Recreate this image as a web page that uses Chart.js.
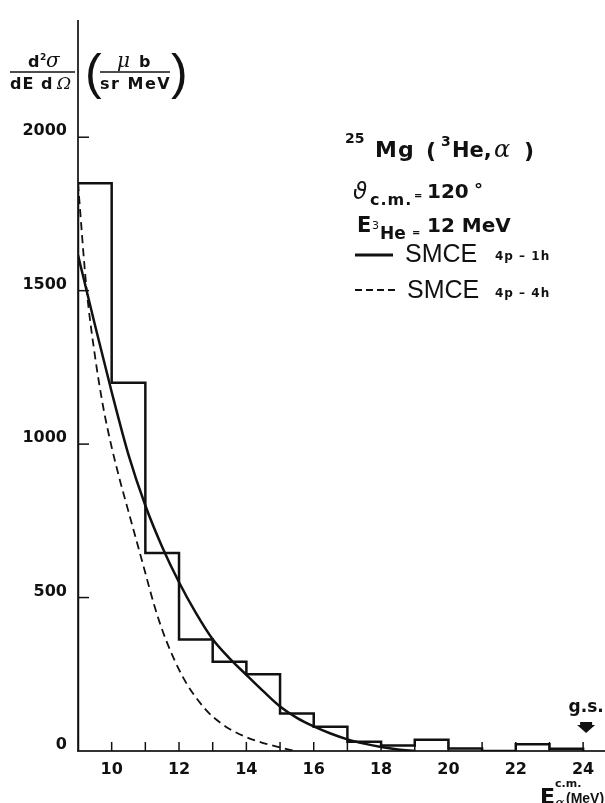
<!DOCTYPE html>
<html>
<head>
<meta charset="utf-8">
<script src="https://cdn.jsdelivr.net/npm/chart.js@4.4.0/dist/chart.umd.min.js"></script>
<style>
  html, body { margin: 0; padding: 0; background: #fff; }
</style>
</head>
<body>
<canvas id="myChart" width="605" height="803"></canvas>
<script>
// histogram, 1 MeV bins (left edges) in microbarn / (sr MeV)
const binEdges  = [9, 10, 11, 12, 13, 14, 15, 16, 17, 18, 19, 20, 21, 22, 23];
const binValues = [1850, 1200, 645, 363, 291, 250, 122, 79, 30, 18, 37, 8, 0, 22, 7];

// SMCE 4p-1h (solid)
const smce1hE = [9.0, 9.5, 10.0, 10.5, 11.0, 11.5, 12.0, 12.5, 13.0, 13.5, 14.0, 14.5, 15.0, 15.5, 16.0, 16.5, 17.0, 17.5, 18.0, 18.5, 19.0];
const smce1hY = [1616, 1390, 1170, 965, 800, 665, 550, 450, 364, 302, 248, 195, 145, 108, 80, 57, 38, 24, 13, 5, 0];

// SMCE 4p-4h (dashed)
const smce4hE = [9.0, 9.25, 9.5, 9.75, 10.0, 10.25, 10.5, 10.75, 11.0, 11.25, 11.5, 11.75, 12.0, 12.25, 12.5, 12.75, 13.0, 13.5, 14.0, 14.5, 15.0, 15.44];
const smce4hY = [1850, 1510, 1290, 1120, 990, 880, 780, 680, 580, 480, 395, 325, 265, 215, 175, 140, 112, 72, 45, 26, 12, 0];

const xTickLabels = [10, 12, 14, 16, 18, 20, 22, 24];
const xTickMarks  = [10, 11, 12, 13, 14, 15, 16, 17, 18, 19, 20, 21, 22, 23, 24];
const yTickLabels = [0, 500, 1000, 1500, 2000];

const INK = '#111';
const BOLD = '"DejaVu Sans", sans-serif';
const SERIF = '"DejaVu Serif", serif';

// step outline of the histogram
let histPts = [{x: binEdges[0], y: 0}];
binEdges.forEach((e, i) => histPts.push({x: e, y: binValues[i]}));
histPts.push({x: 24, y: binValues[binValues.length - 1]});
histPts.push({x: 24, y: 0});

function txt(ctx, s, x, y, font, ls, align) {
  ctx.font = font;
  ctx.letterSpacing = (ls || 0) + 'px';
  ctx.textAlign = align || 'left';
  ctx.textBaseline = 'alphabetic';
  ctx.fillText(s, x, y);
  ctx.letterSpacing = '0px';
}

const decor = {
  id: 'decor',
  afterDraw(chart) {
    const ctx = chart.ctx;
    const xs = chart.scales.x, ys = chart.scales.y;
    const bottom = chart.chartArea.bottom, left = chart.chartArea.left;
    ctx.save();
    ctx.fillStyle = INK;
    ctx.strokeStyle = INK;

    // inside tick marks
    ctx.lineWidth = 1.5;
    xTickMarks.forEach(v => {
      const px = xs.getPixelForValue(v);
      ctx.beginPath(); ctx.moveTo(px, bottom); ctx.lineTo(px, bottom - 9); ctx.stroke();
    });
    yTickLabels.forEach(v => {
      if (v === 0) return;
      const py = ys.getPixelForValue(v);
      ctx.beginPath(); ctx.moveTo(left, py); ctx.lineTo(left + 11, py); ctx.stroke();
    });

    // y axis title  d2sigma / dE dOmega  (mu b / sr MeV)
    txt(ctx, 'd', 28, 67, 'bold 16px ' + BOLD);
    txt(ctx, '2', 40, 60, 'bold 9px ' + BOLD);
    txt(ctx, 'σ', 46, 67, 'italic 20px ' + SERIF);
    ctx.lineWidth = 1.5;
    ctx.beginPath(); ctx.moveTo(10, 72); ctx.lineTo(75, 72); ctx.stroke();
    txt(ctx, 'dE d', 10, 89, 'bold 16px ' + BOLD, 1);
    txt(ctx, 'Ω', 57, 89, 'italic 17px ' + SERIF);
    txt(ctx, '(', 85, 89, '50px "Liberation Sans", Arial');
    txt(ctx, 'μ', 117, 67, 'italic 20px ' + SERIF);
    txt(ctx, 'b', 139, 67, 'bold 16px ' + BOLD);
    ctx.beginPath(); ctx.moveTo(100, 72); ctx.lineTo(170, 72); ctx.stroke();
    txt(ctx, 'sr MeV', 100, 89, 'bold 16px ' + BOLD, 1.5);
    txt(ctx, ')', 171, 89, '50px "Liberation Sans", Arial');

    // reaction label
    txt(ctx, '25', 345, 143, 'bold 14px ' + BOLD);
    txt(ctx, 'Mg', 375, 157, 'bold 22px ' + BOLD, 1);
    txt(ctx, '(', 426, 158, 'bold 22px ' + BOLD);
    txt(ctx, '3', 441, 146, 'bold 14px ' + BOLD);
    txt(ctx, 'He,', 452, 157, 'bold 21px ' + BOLD);
    txt(ctx, 'α', 494, 157, 'italic 24px ' + SERIF);
    txt(ctx, ')', 524, 158, 'bold 22px ' + BOLD);

    // theta c.m. = 120
    txt(ctx, 'ϑ', 353, 199, 'italic 23px ' + BOLD);
    txt(ctx, 'c.m.', 370, 205, 'bold 16px ' + BOLD, 1);
    txt(ctx, '=', 414, 199, 'bold 10px ' + BOLD);
    txt(ctx, '120', 427, 198, 'bold 20px ' + BOLD);
    txt(ctx, '°', 474, 196, 'bold 18px ' + BOLD);

    // E 3He = 12 MeV
    txt(ctx, 'E', 357, 232, 'bold 21px ' + BOLD);
    txt(ctx, '3', 372, 229, '11px ' + BOLD);
    txt(ctx, 'He', 380, 239, 'bold 17px ' + BOLD);
    txt(ctx, '=', 412, 236, 'bold 10px ' + BOLD);
    txt(ctx, '12 MeV', 427, 232, 'bold 20px ' + BOLD);

    // legend
    ctx.lineWidth = 3;
    ctx.beginPath(); ctx.moveTo(355, 255); ctx.lineTo(393, 255); ctx.stroke();
    txt(ctx, 'SMCE', 405, 262, '25px "Liberation Sans", Arial');
    txt(ctx, '4p – 1h', 495, 260, 'bold 12px ' + BOLD, 1);
    ctx.lineWidth = 2;
    ctx.setLineDash([7, 4]);
    ctx.beginPath(); ctx.moveTo(355, 290); ctx.lineTo(397, 290); ctx.stroke();
    ctx.setLineDash([]);
    txt(ctx, 'SMCE', 407, 298, '25px "Liberation Sans", Arial');
    txt(ctx, '4p – 4h', 495, 297, 'bold 12px ' + BOLD, 1);

    // ground state marker
    const gx = xs.getPixelForValue(24) + 3;
    txt(ctx, 'g.s.', gx, 712, 'bold 17px ' + BOLD, 0, 'center');
    ctx.beginPath();
    ctx.moveTo(gx - 6, 722); ctx.lineTo(gx + 6, 722); ctx.lineTo(gx + 6, 725);
    ctx.lineTo(gx + 9, 725); ctx.lineTo(gx, 733); ctx.lineTo(gx - 9, 725);
    ctx.lineTo(gx - 6, 725); ctx.closePath(); ctx.fill();

    // x axis title
    txt(ctx, 'E', 540, 804, 'bold 22px ' + BOLD);
    txt(ctx, 'c.m.', 555, 787, 'bold 11px ' + BOLD);
    txt(ctx, 'α', 555, 808, 'italic 14px ' + SERIF);
    txt(ctx, '(MeV)', 566, 803, 'bold 14px "Liberation Sans", Arial');
    ctx.restore();
  }
};

const chart = new Chart(document.getElementById('myChart').getContext('2d'), {
  type: 'line',
  data: {
    datasets: [
      {
        label: 'data',
        data: histPts,
        stepped: 'before',
        borderColor: INK,
        borderWidth: 2.5,
        pointRadius: 0,
        fill: false
      },
      {
        label: 'SMCE 4p-1h',
        data: smce1hE.map((e, i) => ({x: e, y: smce1hY[i]})),
        borderColor: INK,
        borderWidth: 2.5,
        pointRadius: 0,
        cubicInterpolationMode: 'monotone',
        fill: false
      },
      {
        label: 'SMCE 4p-4h',
        data: smce4hE.map((e, i) => ({x: e, y: smce4hY[i]})),
        borderColor: INK,
        borderWidth: 1.8,
        borderDash: [8, 5],
        pointRadius: 0,
        cubicInterpolationMode: 'monotone',
        fill: false
      }
    ]
  },
  options: {
    responsive: false,
    animation: false,
    devicePixelRatio: 1,
    layout: { padding: { top: 9, right: 1, left: 0, bottom: 0 } },
    plugins: { legend: { display: false }, tooltip: { enabled: false } },
    scales: {
      x: {
        type: 'linear',
        min: 9,
        max: 24.62,
        grid: { display: false, drawTicks: false },
        border: { display: true, color: '#333', width: 2 },
        afterBuildTicks: s => { s.ticks = xTickLabels.map(v => ({value: v})); },
        afterFit: s => { s.height = 52; },
        ticks: {
          autoSkip: false, maxRotation: 0, padding: 9,
          color: INK,
          callback: v => String(v),
          font: { family: 'DejaVu Sans', weight: 'bold', size: 16 }
        }
      },
      y: {
        min: 0,
        max: 2380,
        grid: { display: false, drawTicks: false },
        border: { display: true, color: '#333', width: 2 },
        afterBuildTicks: s => { s.ticks = yTickLabels.map(v => ({value: v})); },
        afterFit: s => { s.width = 78; },
        ticks: {
          autoSkip: false, padding: 11, labelOffset: -6,
          color: INK,
          callback: v => String(v),
          font: { family: 'DejaVu Sans', weight: 'bold', size: 16 }
        }
      }
    }
  },
  plugins: [decor]
});
</script>
</body>
</html>
